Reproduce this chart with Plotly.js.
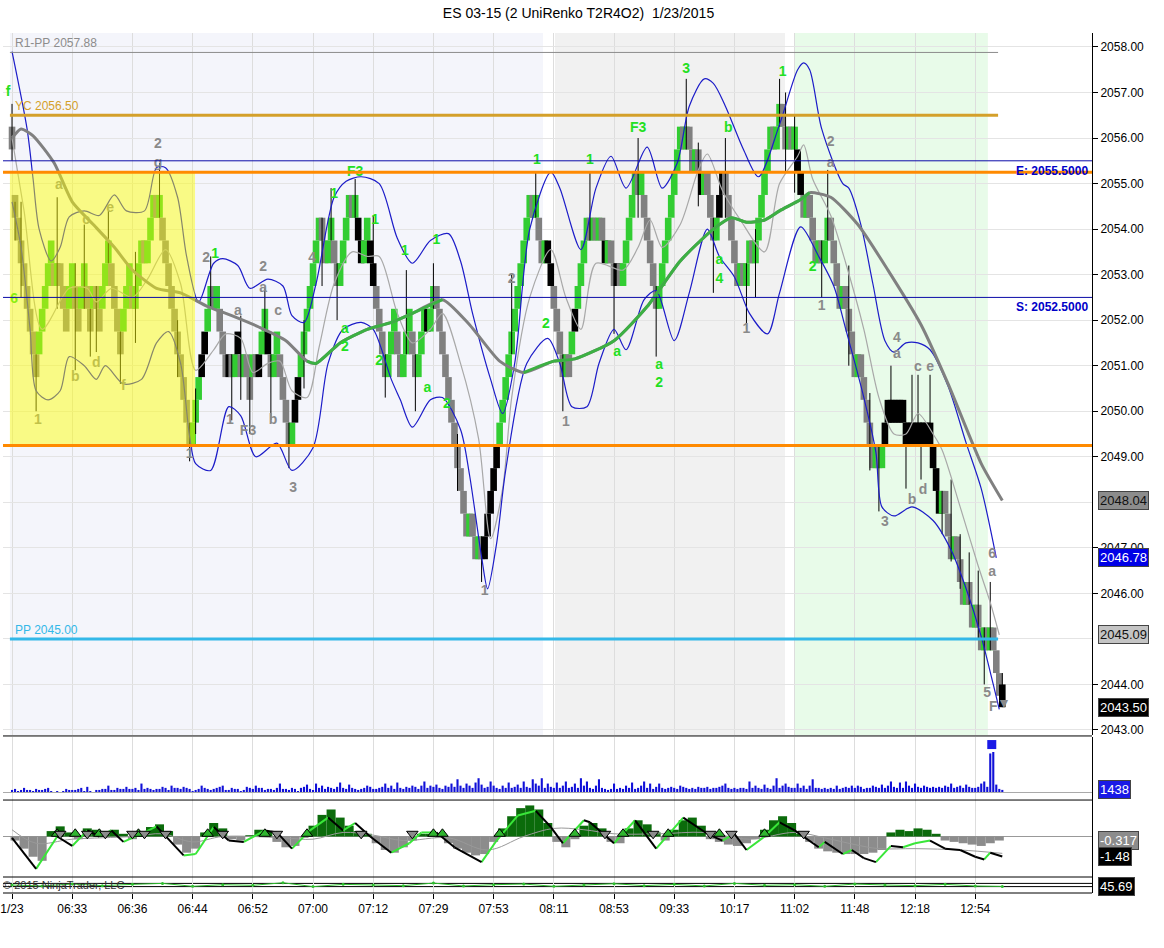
<!DOCTYPE html>
<html>
<head>
<meta charset="utf-8">
<script src="https://cdn.plot.ly/plotly-3.0.1.min.js"></script>
<style>
  html, body { margin: 0; padding: 0; background: #fff; }
  #plot { width: 1164px; height: 948px; }
</style>
</head>
<body>
<div id="plot"></div>
<script>
// renko closes, one per bar (bar 0 = first bar on the chart)
const closes = [
  2055.75, 2054.25, 2053.75, 2053.25, 2052.75, 2052.25, 2051.75, 2051.25, 2050.75, 2051.75,
  2052.25, 2052.75, 2053.25, 2053.75, 2052.75, 2053.25, 2052.75, 2052.25, 2051.75, 2052.75,
  2053.25, 2052.25, 2051.75, 2052.75, 2053.25, 2052.25, 2051.75, 2052.75, 2052.25, 2051.75,
  2052.75, 2053.25, 2053.75, 2052.75, 2052.25, 2051.75, 2051.25, 2052.25, 2052.75, 2053.25,
  2052.25, 2052.75, 2053.25, 2053.75, 2053.25, 2053.75, 2054.25, 2054.75, 2054.25, 2054.75,
  2053.75, 2053.25, 2052.75, 2052.25, 2051.75, 2051.25, 2050.75, 2050.25, 2049.75, 2049.25,
  2049.75, 2050.25, 2050.75, 2051.25, 2051.75, 2052.25, 2052.75, 2052.25, 2052.75, 2051.75,
  2051.25, 2050.75, 2051.25, 2050.75, 2051.25, 2051.75, 2050.75, 2051.25, 2050.75, 2050.25,
  2051.25, 2050.75, 2051.25, 2051.75, 2052.25, 2051.25, 2050.75, 2051.25, 2051.75, 2050.75,
  2050.25, 2049.75, 2049.25, 2049.75, 2050.25, 2050.75, 2051.25, 2051.75, 2052.25, 2052.75,
  2053.25, 2053.75, 2054.25, 2053.75, 2053.25, 2053.75, 2054.25, 2053.25, 2052.75, 2053.25,
  2053.75, 2054.25, 2054.75, 2054.25, 2054.75, 2053.75, 2053.25, 2053.75, 2054.25, 2053.25,
  2052.75, 2052.25, 2051.75, 2051.25, 2050.75, 2051.25, 2051.75, 2052.25, 2051.25, 2050.75,
  2051.25, 2051.75, 2052.25, 2051.25, 2050.75, 2051.25, 2051.75, 2052.25, 2051.75, 2052.25,
  2052.75, 2052.25, 2051.75, 2051.25, 2050.75, 2050.25, 2049.75, 2049.25, 2048.75, 2048.25,
  2047.75, 2047.25, 2047.75, 2047.25, 2046.75, 2047.25, 2046.75, 2047.25, 2047.75, 2048.25,
  2048.75, 2049.25, 2049.75, 2050.25, 2050.75, 2051.25, 2051.75, 2052.25, 2052.75, 2053.25,
  2053.75, 2054.25, 2054.75, 2054.25, 2054.75, 2053.75, 2053.25, 2053.75, 2053.25, 2052.75,
  2052.25, 2051.75, 2051.25, 2050.75, 2051.25, 2050.75, 2051.75, 2052.25, 2052.75, 2053.25,
  2053.75, 2054.25, 2053.75, 2054.25, 2053.75, 2054.25, 2053.75, 2053.25, 2053.75, 2053.25,
  2052.75, 2053.25, 2052.75, 2053.25, 2053.75, 2054.25, 2054.75, 2055.25, 2054.75, 2055.25,
  2054.25, 2053.75, 2053.25, 2052.75, 2052.25, 2052.75, 2053.25, 2053.75, 2054.25, 2054.75,
  2055.25, 2055.75, 2056.25, 2055.75, 2056.25, 2055.75, 2055.25, 2055.75, 2055.25, 2054.75,
  2055.25, 2054.75, 2054.25, 2053.75, 2054.25, 2054.75, 2055.25, 2054.75, 2054.25, 2053.75,
  2053.25, 2052.75, 2053.25, 2052.75, 2053.25, 2053.75, 2053.25, 2053.75, 2054.25, 2054.75,
  2055.25, 2055.75, 2056.25, 2055.75, 2056.25, 2056.75, 2056.25, 2055.75, 2056.25, 2055.75,
  2056.25, 2055.25, 2054.75, 2054.25, 2054.75, 2054.25, 2053.75, 2053.25, 2053.75, 2053.25,
  2053.75, 2054.25, 2053.75, 2053.25, 2052.75, 2052.25, 2052.75, 2052.25, 2051.75, 2051.25,
  2050.75, 2051.25, 2050.75, 2050.25, 2049.75, 2049.25, 2048.75, 2049.25, 2048.75, 2049.25,
  2049.75, 2050.25, 2049.75, 2050.25, 2049.75, 2050.25, 2049.75, 2049.25, 2049.75, 2049.25,
  2049.75, 2049.25, 2049.75, 2049.25, 2049.75, 2049.25, 2048.75, 2048.25, 2047.75, 2048.25,
  2047.75, 2047.25, 2046.75, 2047.25, 2046.75, 2046.25, 2045.75, 2046.25, 2045.75, 2045.25,
  2045.75, 2045.25, 2044.75, 2045.25, 2044.75, 2045.25, 2044.75, 2044.25, 2043.75, 2043.50
];

// bars painted black instead of green/grey
const blackBars = [63, 64, 72, 75, 82, 85, 94, 95, 115, 116, 119, 120, 138,
  157, 158, 159, 160, 161, 178, 179, 187, 197, 201, 229, 235, 236, 261, 262,
  290, 291, 292, 293, 294, 295, 296, 297, 298, 299, 300, 301, 302, 303, 304, 305, 306, 307, 308, 329];

// wicks: [bar, low, high]
const wicks = [
  [0, 2055.5, 2056.75], [1, 2053.75, 2054.6], [3, 2052.5, 2054.6], [8, 2050.0, 2051.25],
  [15, 2052.25, 2054.7], [21, 2050.9, 2053.25], [24, 2052.25, 2054.1], [26, 2051.2, 2052.25],
  [28, 2051.3, 2052.75], [32, 2053.25, 2054.4], [36, 2050.6, 2051.75], [41, 2051.5, 2053.5],
  [49, 2054.25, 2055.45], [55, 2050.75, 2052.0], [59, 2048.9, 2049.75], [61, 2049.5, 2050.5],
  [66, 2052.25, 2053.4], [73, 2049.8, 2051.25], [76, 2050.25, 2052.1], [79, 2049.5, 2050.75],
  [84, 2051.75, 2052.7], [86, 2049.8, 2051.25], [92, 2048.75, 2049.75], [97, 2050.5, 2052.0],
  [103, 2052.75, 2054.25], [106, 2053.75, 2054.9], [108, 2052.0, 2053.25], [114, 2054.25, 2055.1],
  [120, 2052.75, 2054.3], [124, 2050.3, 2051.25], [131, 2051.25, 2053.1], [134, 2050.0, 2051.25],
  [140, 2052.25, 2053.25], [148, 2048.25, 2049.5], [156, 2046.25, 2047.25], [166, 2051.25, 2053.0],
  [174, 2054.25, 2055.25], [183, 2050.0, 2051.25], [192, 2053.75, 2055.25], [200, 2051.7, 2053.25],
  [208, 2054.25, 2056.0], [214, 2051.2, 2052.75], [224, 2055.75, 2057.3], [228, 2054.5, 2055.9],
  [233, 2052.6, 2054.25], [237, 2054.25, 2056.0], [244, 2051.8, 2053.25], [247, 2052.5, 2054.0],
  [255, 2056.25, 2057.3], [257, 2055.25, 2057.0], [260, 2054.8, 2056.5], [269, 2052.5, 2053.75],
  [271, 2053.75, 2055.3], [278, 2051.0, 2053.2], [285, 2048.7, 2050.4], [288, 2047.8, 2049.25],
  [292, 2049.75, 2051.0], [297, 2048.3, 2049.75], [299, 2049.25, 2050.8], [301, 2049.25, 2050.8],
  [302, 2048.5, 2049.75], [305, 2049.25, 2050.8], [309, 2047.3, 2048.25], [312, 2046.7, 2048.5],
  [315, 2046.1, 2047.3], [318, 2045.75, 2046.9], [321, 2045.0, 2046.5], [323, 2044.0, 2045.25],
  [325, 2044.75, 2046.25], [329, 2043.5, 2044.25]
];

// slow moving average (thick), sampled
const slowBars = [0, 3, 7, 14, 20, 27, 34, 40, 48, 56, 65, 73, 82, 91, 98, 101, 109, 118, 126, 133,
  143, 152, 162, 170, 180, 187, 200, 211, 222, 233, 239, 244, 250, 255, 262, 265, 272, 281, 291,
  302, 311, 322, 329];
const slowVals = [2056.0, 2056.2, 2056.05, 2055.45, 2054.6, 2054.1, 2053.6, 2053.1, 2052.7, 2052.6,
  2052.3, 2052.1, 2051.85, 2051.55, 2051.1, 2051.05, 2051.5, 2051.8, 2051.95, 2052.15,
  2052.45, 2051.9, 2051.1, 2050.85, 2051.1, 2051.15, 2051.55, 2052.3, 2053.3, 2054.0, 2054.25,
  2054.15, 2054.2, 2054.4, 2054.65, 2054.8, 2054.7, 2054.1, 2053.1, 2051.9, 2050.6, 2048.85, 2048.04];
const slowRisingSpans = [[98, 143], [170, 265]];

// fast moving average (thin grey), sampled
const fastBars = [0, 4, 10, 19, 25, 28, 33, 40, 45, 51, 56, 61, 67, 71, 76, 80, 85, 89, 93, 98,
  102, 107, 113, 118, 122, 128, 133, 139, 143, 149, 155, 159, 163, 166, 172, 179, 184, 189, 194,
  203, 208, 212, 216, 222, 228, 231, 236, 242, 250, 255, 261, 263, 266, 272, 277, 283, 288, 293,
  297, 301, 306, 309, 315, 321, 325, 328];
const fastVals = [2056.0, 2054.4, 2051.8, 2052.7, 2052.7, 2052.4, 2052.7, 2052.5, 2052.9, 2053.55,
  2052.8, 2050.9, 2051.35, 2051.7, 2051.6, 2050.85, 2051.05, 2051.1, 2050.45, 2050.3,
  2051.4, 2052.8, 2053.5, 2053.4, 2053.4, 2052.15, 2051.5, 2051.8, 2052.15, 2051.05, 2049.4,
  2047.2, 2048.3, 2050.3, 2052.5, 2053.55, 2052.5, 2051.8, 2053.25, 2053.1, 2053.6, 2054.2,
  2053.6, 2054.1, 2055.3, 2055.65, 2054.85, 2054.2, 2053.5, 2055.0, 2055.6, 2055.85, 2055.1,
  2054.3, 2053.25, 2051.8, 2050.3, 2049.5, 2049.5, 2049.95, 2049.5, 2049.15, 2047.9, 2046.6,
  2045.8, 2045.09];

// upper and lower envelope (blue), sampled
const upperBars = [0, 5, 7, 9, 13, 16, 19, 24, 29, 34, 38, 44, 48, 51, 55, 58, 62, 67, 70, 75, 79,
  85, 90, 93, 97, 101, 107, 111, 116, 122, 128, 133, 139, 145, 149, 153, 159, 163, 167, 172, 179,
  182, 189, 194, 199, 204, 211, 216, 221, 225, 230, 233, 237, 243, 248, 255, 261, 263, 265, 269,
  276, 278, 282, 286, 290, 293, 297, 301, 305, 311, 317, 322, 327];
const upperVals = [2057.9, 2056.2, 2055.1, 2054.0, 2053.3, 2053.6, 2054.27, 2054.4, 2054.3, 2054.75,
  2054.4, 2054.4, 2055.35, 2055.35, 2054.7, 2053.4, 2052.4, 2053.25, 2053.35, 2053.2, 2052.7,
  2052.9, 2052.75, 2052.1, 2051.95, 2052.8, 2054.7, 2055.05, 2055.15, 2055.0, 2053.8, 2053.25,
  2053.75, 2053.9, 2053.3, 2052.15, 2050.7, 2049.95, 2051.05, 2054.0, 2055.25, 2054.9, 2053.55,
  2054.9, 2055.6, 2054.9, 2055.8, 2054.9, 2055.45, 2056.7, 2057.3, 2057.2, 2056.7, 2055.75,
  2055.15, 2056.3, 2057.5, 2057.65, 2057.5, 2056.2, 2055.0, 2054.9, 2054.1, 2052.8, 2051.55,
  2051.3, 2051.5, 2051.5, 2051.35, 2050.55, 2049.3, 2048.3, 2046.78];
const lowerBars = [0, 3, 6, 8, 12, 16, 19, 24, 28, 31, 37, 43, 48, 52, 56, 59, 61, 66, 72, 76, 81,
  88, 93, 100, 105, 110, 116, 120, 126, 129, 133, 139, 143, 149, 152, 156, 158, 161, 164, 171,
  178, 182, 186, 191, 195, 200, 204, 210, 214, 220, 225, 231, 235, 240, 245, 251, 255, 262, 268,
  273, 277, 283, 287, 289, 293, 299, 306, 312, 317, 322, 326, 328];
const lowerVals = [2054.6, 2053.6, 2051.8, 2050.45, 2050.25, 2050.45, 2051.2, 2051.0, 2050.7, 2051.0,
  2050.6, 2050.7, 2051.5, 2051.75, 2051.05, 2049.45, 2048.85, 2048.7, 2050.1, 2049.9, 2049.0,
  2049.3, 2048.7, 2049.2, 2051.05, 2051.8, 2051.95, 2051.8, 2050.7, 2050.25, 2049.65, 2050.25,
  2050.3, 2049.6, 2048.6, 2046.8, 2046.1, 2047.1, 2048.7, 2051.05, 2051.6, 2051.05, 2050.1,
  2050.1, 2051.05, 2051.8, 2051.35, 2052.45, 2052.65, 2051.55, 2052.6, 2054.0, 2053.4, 2052.95,
  2052.15, 2051.7, 2052.6, 2054.05, 2053.4, 2052.75, 2051.8, 2050.3, 2049.1, 2047.9, 2047.7,
  2047.9, 2047.6, 2046.95, 2046.1, 2045.05, 2044.0, 2043.45];

// swing labels on the price panel
const greenLabelBars = [-1.3, 0.7, 67.5, 114, 107, 120.6, 130.5, 141, 110.6, 110.6, 122, 138, 144.5,
  174.4, 177.4, 192, 201, 208, 215, 215, 224, 238, 235, 235, 256, 266];
const greenLabelPrices = [2057.0, 2052.45, 2053.45, 2055.25, 2054.75, 2054.2, 2053.5, 2053.75, 2051.8,
  2051.4, 2051.1, 2050.5, 2050.15, 2055.5, 2051.9, 2055.5, 2051.3, 2056.2, 2051.0, 2050.62,
  2057.5, 2056.2, 2053.3, 2052.9, 2057.45, 2053.15];
const greenLabelTexts = ['f', '6', '1', 'F3', '1', '1', '1', '1', 'a', '2', '2', 'a', '2',
  '1', '2', '1', 'a', 'F3', 'a', '2', '3', 'b', 'a', '4', '1', '2'];
const greyLabelBars = [8.6, 15.6, 21, 24.6, 28, 32.6, 37, 48.5, 48.5, 59, 64.5, 75, 83.4, 83.4, 88.4,
  72.4, 78.4, 86.7, 93.4, 99.7, 166, 157, 184, 244, 272, 272, 269, 294, 294, 301, 305, 290, 299,
  302.7, 325.6, 325.6, 324, 326, 329.5];
const greyLabelPrices = [2049.8, 2054.95, 2050.75, 2054.2, 2051.05, 2054.45, 2050.55, 2055.85,
  2055.45, 2049.05, 2053.35, 2052.2, 2053.15, 2052.7, 2052.2, 2049.8, 2049.55, 2049.8, 2048.3,
  2053.35, 2052.9, 2046.05, 2049.75, 2051.8, 2055.9, 2055.45, 2052.3, 2051.6, 2051.25, 2050.95,
  2050.95, 2047.55, 2048.05, 2048.25, 2046.85, 2046.45, 2043.8, 2043.5, 2043.55];
const greyLabelTexts = ['1', 'a', 'b', 'c', 'd', 'e', 'f', '2', 'g', '1', '2', 'a', '2', 'a', 'c',
  '1', 'F3', 'b', '3', '4', '2', '1', '1', '1', '2', 'a', '1', '4', 'a', 'c', 'e', '3', 'b',
  'd', '6', 'a', '5', 'F', '▼'];

// price levels
const levelNames = ['R1-PP 2057.88', 'YC 2056.50', 'PP 2045.00'];
const levelPrices = [2057.88, 2056.50, 2045.00];
const zonePrices = [2055.25, 2049.25];
const targetNames = ['E: 2055.5000', 'S: 2052.5000'];
const targetPrices = [2055.5, 2052.5];
// price tick labels left visible (the others sit under value tags)
const priceTicks = [2043, 2044, 2046, 2047, 2049, 2050, 2051, 2052, 2053, 2054, 2055, 2056, 2057, 2058];

// x axis labels, one every 20 bars
const timeLabels = ['1/23', '06:33', '06:36', '06:44', '06:52', '07:00', '07:12', '07:29', '07:53',
  '08:11', '08:53', '09:33', '10:17', '11:02', '11:48', '12:18', '12:54'];

// volume per bar
const volumes = [
  1400, 2100, 700, 1400, 2800, 1400, 1400, 700, 2100, 1400,
  1400, 2100, 2800, 700, 0, 700, 0, 700, 2100, 1400,
  1400, 1400, 2100, 2800, 700, 3500, 700, 0, 1400, 1400,
  2100, 2100, 4300, 1400, 1400, 2800, 2100, 2100, 3500, 2100,
  2100, 2800, 1400, 5700, 2100, 2800, 2100, 1400, 2100, 2100,
  3500, 2800, 1400, 4300, 2800, 2800, 2100, 3500, 2800, 2100,
  700, 1400, 2100, 4300, 2800, 2100, 1400, 2100, 2800, 3500,
  4300, 1400, 1400, 2800, 2100, 2100, 700, 1400, 3500, 2800,
  2100, 4300, 2800, 2800, 1400, 2100, 2100, 1400, 2800, 5700,
  2100, 2100, 1400, 2800, 2100, 700, 2800, 3500, 5000, 2100,
  1400, 5700, 2800, 4300, 2100, 3500, 2800, 2100, 3500, 6400,
  2800, 2100, 5000, 2800, 2100, 1400, 2100, 2800, 4300, 3500,
  2100, 2100, 2800, 3500, 5700, 2800, 4300, 2100, 6400, 2800,
  2100, 3500, 2800, 4300, 3500, 2100, 4300, 7100, 2800, 4300,
  3500, 5000, 2800, 2100, 4300, 3500, 5700, 3500, 8600, 4300,
  2800, 5700, 4300, 2800, 6400, 9300, 5000, 2800, 3500, 7100,
  4300, 2800, 2100, 4300, 2800, 6400, 2800, 3500, 5000, 2800,
  7100, 3500, 2800, 8600, 5700, 4300, 9300, 2800, 5700, 3500,
  2800, 6400, 2800, 4300, 7100, 2800, 3500, 5700, 2800, 9300,
  4300, 7100, 2800, 2100, 4300, 8600, 2800, 2100, 1400, 2100,
  5700, 2100, 2800, 2100, 4300, 2800, 6400, 2100, 2800, 4300,
  7100, 2800, 5700, 2100, 3500, 5700, 2800, 2100, 2800, 3500,
  2800, 2100, 4300, 3500, 2800, 2100, 2800, 2100, 3500, 2800,
  2800, 3500, 2100, 2800, 2800, 3500, 4300, 5700, 2800, 2100,
  2800, 2100, 2800, 2800, 2100, 7100, 2800, 4300, 2800, 2100,
  5000, 2800, 2100, 4300, 9300, 2800, 4300, 5700, 3500, 2800,
  2800, 5700, 2800, 4300, 2100, 4300, 8600, 2800, 2800, 2100,
  2800, 2100, 2800, 2100, 4300, 2100, 2800, 3500, 2800, 4300,
  2800, 4300, 3500, 2100, 2800, 2800, 4300, 3500, 2800, 5000,
  2800, 4300, 7100, 3500, 2800, 6400, 2800, 7100, 4300, 2800,
  5700, 3500, 2800, 4300, 3500, 2800, 3500, 2800, 3500, 2800,
  4300, 3500, 5700, 2800, 3500, 4300, 2800, 5000, 3500, 2800,
  2800, 3500, 5700, 7100, 3500, 26000, 27000, 5000, 2100, 1438
];
const volAlertBar = [325.5];
const volAlertValue = [32000];

// oscillator histogram, one value per 3 bars starting at bar 0
const histVals = [
  -0.3, -0.9, -1.5, -1.8, 0.4, 0.75, 0.3, -0.2, 0.6, 0.5,
  0.4, 0.5, 0.2, -0.2, 0.2, 0.7, 0.9, 0.4, -0.6, -1.2,
  -0.9, 0.3, 1.0, 0.6, -0.2, -0.3, 0.1, 0.5, 0.4, -0.4,
  -0.8, -0.7, -0.1, 0.8, 1.6, 2.0, 1.4, 0.8, 0.4, 0.2,
  -0.5, -1.0, -1.2, -0.8, -0.3, 0.2, 0.2, -0.1, -0.5, -0.9,
  -1.2, -1.4, -1.3, -0.4, 0.6, 1.5, 2.1, 2.3, 2.0, 1.0,
  -0.4, -0.8, -0.2, 0.8, 1.0, 0.6, -0.4, -0.5, 0.6, 1.2,
  0.9, 0.3, -0.3, 0.5, 1.2, 1.4, 0.8, -0.2, -0.4, -0.6,
  -0.7, -0.5, -0.2, 0.5, 1.2, 1.5, 1.0, 0.2, -0.4, -0.9,
  -1.1, -1.2, -1.3, -1.3, -1.3, -1.2, -1.0, 0.3, 0.5, 0.4,
  0.6, 0.5, 0.2, -0.3, -0.4, -0.5, -0.6, -0.7, -0.5, -0.3
];
// oscillator main line, sampled
const macdBars = [0, 8, 15, 20, 25, 29, 33, 37, 43, 48, 57, 61, 67, 72, 77, 84, 88, 93, 99, 105,
  110, 114, 119, 126, 132, 136, 141, 147, 156, 161, 168, 174, 179, 183, 190, 192, 200, 207, 214,
  223, 231, 236, 240, 244, 250, 255, 260, 268, 270, 276, 279, 283, 287, 292, 296, 300, 305, 310,
  315, 320, 323, 325, 329];
const macdVals = [-0.1, -2.4, 0.0, -0.7, 0.45, 0.0, 0.45, -0.4, 0.2, 0.75, -1.4, -1.3, 0.7, -0.3,
  -0.4, 0.45, 0.3, -0.9, 0.45, 1.4, 0.45, 1.0, 0.0, -1.2, -0.5, 0.3, 0.3, -0.8, -1.9, -0.3,
  1.55, 1.9, 0.7, -0.5, 1.2, 1.05, -0.5, 1.2, -0.9, 1.4, 0.2, -0.3, 0.2, -1.0, 0.0, 1.05, 0.45,
  -0.8, -0.4, -1.3, -1.0, -1.6, -1.9, -0.7, -0.8, -0.5, -0.3, -0.9, -1.0, -1.5, -1.7, -1.2, -1.48];
// oscillator signal line, sampled
const signalBars = [0, 8, 20, 40, 50, 60, 70, 90, 100, 110, 120, 130, 145, 158, 170, 180, 190, 200,
  215, 230, 245, 260, 270, 280, 288, 300, 315, 329];
const signalVals = [0.5, -0.5, -0.2, 0.0, 0.2, -0.4, 0.0, -0.1, -0.2, 0.3, 0.1, -0.3, -0.1, -1.0,
  0.0, 0.6, 0.5, 0.2, 0.2, 0.3, -0.2, 0.3, -0.1, -0.6, -0.9, -0.9, -1.0, -1.25];
const crossUpBars = [15, 21, 29, 42, 65, 84, 98, 140, 143, 162, 187, 203, 218, 235, 250];
const crossDownBars = [16, 25, 31, 40, 44, 51, 70, 88, 116, 133, 197, 213, 232, 239, 263];

// bottom strip oscillator, sampled
const stripBars = [0, 10, 20, 30, 40, 50, 60, 70, 80, 90, 100, 110, 120, 130, 140, 150, 160, 170,
  180, 190, 200, 210, 220, 230, 240, 250, 260, 270, 280, 290, 300, 310, 320, 329];
const stripVals = [50, 47, 53, 48, 52, 55, 46, 51, 49, 57, 45, 52, 50, 48, 56, 47, 51, 53, 46, 50,
  54, 48, 52, 47, 55, 49, 51, 46, 53, 50, 48, 52, 47, 45.69];
const stripLevels = [45, 55];

// ---- build traces ----
const FONT = 'Liberation Sans, Arial, sans-serif';
const barIdx = closes.map((c, i) => i);
const opens = closes.map((c, i) => {
  const prev = i === 0 ? c + 1 : closes[i - 1];
  return c > prev ? c - 0.5 : c + 0.5;
});
const brickColors = closes.map((c, i) => {
  if (blackBars.includes(i)) return '#000000';
  return c > opens[i] ? '#32cd32' : '#808080';
});

const wickX = [], wickY = [];
wicks.forEach(w => { wickX.push(w[0], w[0], null); wickY.push(w[1], w[2], null); });

const wickTrace = {
  type: 'scatter', mode: 'lines', x: wickX, y: wickY, xaxis: 'x', yaxis: 'y',
  line: {color: '#000', width: 1}, hoverinfo: 'skip'
};
const brickTrace = {
  type: 'bar', x: barIdx, base: closes.map((c, i) => Math.min(c, opens[i])),
  y: closes.map((c, i) => Math.abs(c - opens[i])), width: 2.2,
  marker: {color: brickColors, line: {width: 0}}, xaxis: 'x', yaxis: 'y'
};

const slowGrey = {
  type: 'scatter', mode: 'lines', x: slowBars, y: slowVals, xaxis: 'x', yaxis: 'y',
  line: {color: '#808080', width: 3, shape: 'spline', smoothing: 0.6}
};
const slowGreen = slowRisingSpans.map(span => {
  const xs = [], ys = [];
  slowBars.forEach((b, i) => { if (b >= span[0] && b <= span[1]) { xs.push(b); ys.push(slowVals[i]); } });
  return {type: 'scatter', mode: 'lines', x: xs, y: ys, xaxis: 'x', yaxis: 'y',
    line: {color: '#3cb043', width: 3, shape: 'spline', smoothing: 0.6}};
});
const fastTrace = {
  type: 'scatter', mode: 'lines', x: fastBars, y: fastVals, xaxis: 'x', yaxis: 'y',
  line: {color: '#a8a8a8', width: 1.2, shape: 'spline', smoothing: 0.8}
};
const upperTrace = {
  type: 'scatter', mode: 'lines', x: upperBars, y: upperVals, xaxis: 'x', yaxis: 'y',
  line: {color: '#1c1cc8', width: 1.2, shape: 'spline', smoothing: 0.8}
};
const lowerTrace = {
  type: 'scatter', mode: 'lines', x: lowerBars, y: lowerVals, xaxis: 'x', yaxis: 'y',
  line: {color: '#1c1cc8', width: 1.2, shape: 'spline', smoothing: 0.8}
};
const greenLabels = {
  type: 'scatter', mode: 'text', x: greenLabelBars, y: greenLabelPrices, text: greenLabelTexts,
  xaxis: 'x', yaxis: 'y', cliponaxis: false,
  textfont: {family: FONT, size: 14, color: '#22e022', weight: 'bold'}
};
const greyLabels = {
  type: 'scatter', mode: 'text', x: greyLabelBars, y: greyLabelPrices, text: greyLabelTexts,
  xaxis: 'x', yaxis: 'y', cliponaxis: false,
  textfont: {family: FONT, size: 14, color: '#8a8a8a', weight: 'bold'}
};

const volTrace = {
  type: 'bar', x: barIdx, y: volumes, width: 0.7, xaxis: 'x', yaxis: 'y2',
  marker: {color: '#1010d8', line: {width: 0}}
};
const volAlert = {
  type: 'scatter', mode: 'markers', x: volAlertBar, y: volAlertValue, xaxis: 'x', yaxis: 'y2',
  marker: {symbol: 'square', size: 9, color: '#1a1ae6'}
};

const histTrace = {
  type: 'bar', x: histVals.map((v, i) => i * 3 + 1), y: histVals, width: 3,
  xaxis: 'x', yaxis: 'y3',
  marker: {color: histVals.map(v => v >= 0 ? '#0b6b0b' : '#8c8c8c'), line: {width: 0}}
};
const signalTrace = {
  type: 'scatter', mode: 'lines', x: signalBars, y: signalVals, xaxis: 'x', yaxis: 'y3',
  line: {color: '#999', width: 1, shape: 'spline'}
};
const upX = [], upY = [], dnX = [], dnY = [];
for (let i = 1; i < macdBars.length; i++) {
  const rising = macdVals[i] >= macdVals[i - 1];
  (rising ? upX : dnX).push(macdBars[i - 1], macdBars[i], null);
  (rising ? upY : dnY).push(macdVals[i - 1], macdVals[i], null);
}
const macdUp = {type: 'scatter', mode: 'lines', x: upX, y: upY, xaxis: 'x', yaxis: 'y3',
  line: {color: '#39e639', width: 2}};
const macdDn = {type: 'scatter', mode: 'lines', x: dnX, y: dnY, xaxis: 'x', yaxis: 'y3',
  line: {color: '#000', width: 2}};
const triUp = {type: 'scatter', mode: 'markers', x: crossUpBars, y: crossUpBars.map(() => 0.2),
  xaxis: 'x', yaxis: 'y3',
  marker: {symbol: 'triangle-up', size: 10, color: '#2fb52f', line: {color: '#000', width: 1}}};
const triDn = {type: 'scatter', mode: 'markers', x: crossDownBars, y: crossDownBars.map(() => 0.2),
  xaxis: 'x', yaxis: 'y3',
  marker: {symbol: 'triangle-down', size: 10, color: '#8c8c8c', line: {color: '#000', width: 1}}};

const stripTrace = {type: 'scatter', mode: 'lines+markers', x: stripBars, y: stripVals,
  xaxis: 'x', yaxis: 'y4', line: {color: '#30c030', width: 1},
  marker: {size: 3, color: '#30c030'}};

// ---- layout ----
const shapes = [];
// session shading
const shade = (x0, x1, color) => shapes.push({type: 'rect', xref: 'x', yref: 'y domain',
  x0: x0, x1: x1, y0: 0, y1: 1, fillcolor: color, line: {width: 0}, layer: 'below'});
shade(-0.7, 176.4, '#f4f5fb');
shade(180.4, 256.8, '#f1f1f1');
shade(260.1, 324.2, '#e8fbe9');
// yellow box over the opening range
shapes.push({type: 'rect', xref: 'x', yref: 'y', x0: -0.7, x1: 60.8, y0: zonePrices[1], y1: zonePrices[0],
  fillcolor: '#ffff00', opacity: 0.47, line: {width: 0}, layer: 'above'});
// pivot lines
const levelColors = ['#8c8c8c', '#d4a02a', '#33b8e8'];
const levelWidths = [1, 3, 3];
levelPrices.forEach((p, i) => shapes.push({type: 'line', xref: 'x', yref: 'y', x0: -0.7, x1: 327.6,
  y0: p, y1: p, line: {color: levelColors[i], width: levelWidths[i]}, layer: 'above'}));
targetPrices.forEach(p => shapes.push({type: 'line', xref: 'paper', yref: 'y', x0: 0, x1: 1,
  y0: p, y1: p, line: {color: '#0a0aa8', width: 1}, layer: 'above'}));
zonePrices.forEach(p => shapes.push({type: 'line', xref: 'paper', yref: 'y', x0: 0, x1: 1,
  y0: p, y1: p, line: {color: '#ff8a00', width: 3}, layer: 'above'}));
stripLevels.forEach(p => shapes.push({type: 'line', xref: 'paper', yref: 'y4', x0: 0, x1: 1,
  y0: p, y1: p, line: {color: '#000', width: 1}, layer: 'below'}));
// panel separators
[0.1826, 0.1081, 0.0186, 0].forEach(v => shapes.push({type: 'line', xref: 'paper', yref: 'paper',
  x0: 0, x1: 1, y0: v, y1: v, line: {color: '#000', width: 1}}));

const annotations = [];
levelNames.forEach((t, i) => annotations.push({xref: 'x', yref: 'y', x: 0.3, y: levelPrices[i],
  text: t, showarrow: false, xanchor: 'left', yanchor: 'bottom',
  font: {family: FONT, size: 12, color: levelColors[i]}}));
targetNames.forEach((t, i) => annotations.push({xref: 'paper', yref: 'y', x: 1, y: targetPrices[i],
  text: '<b>' + t + '</b>', showarrow: false, xanchor: 'right', yanchor: 'top', xshift: -2, yshift: -1,
  font: {family: FONT, size: 12, color: '#0000c8'}}));
const tag = (yref, y, text, bg, fg) => annotations.push({xref: 'paper', yref: yref, x: 1, y: y,
  text: text, showarrow: false, xanchor: 'left', yanchor: 'middle', xshift: 6,
  bgcolor: bg, bordercolor: '#444', borderwidth: 1, borderpad: 1,
  font: {family: FONT, size: 13, color: fg}});
tag('y', slowVals[slowVals.length - 1], '2048.04', '#8c8c8c', '#111');
tag('y', upperVals[upperVals.length - 1], '2046.78', '#0000e6', '#fff');
tag('y', fastVals[fastVals.length - 1], '2045.09', '#c4c4c4', '#111');
tag('y', closes[closes.length - 1], '2043.50', '#000', '#fff');
tag('y2', volumes[volumes.length - 1], '1438', '#1a1ae6', '#fff');
tag('y3', histVals[histVals.length - 1], '-0.317', '#8c8c8c', '#fff');
tag('y3', macdVals[macdVals.length - 1], '-1.48', '#000', '#fff');
tag('y4', stripVals[stripVals.length - 1], '45.69', '#000', '#fff');
annotations.push({xref: 'paper', yref: 'y4', x: 0, y: 50, text: '© 2015 NinjaTrader, LLC',
  showarrow: false, xanchor: 'left', yanchor: 'middle', xshift: -2,
  font: {family: FONT, size: 11, color: '#333'}});

const layout = {
  width: 1164, height: 948,
  margin: {l: 3, r: 72, t: 33, b: 55},
  paper_bgcolor: '#fff', plot_bgcolor: '#fff',
  showlegend: false, hovermode: false,
  barmode: 'overlay',
  title: {text: 'ES 03-15 (2 UniRenko T2R4O2)  1/23/2015', x: 0.497, xanchor: 'center',
    y: 0.986, yanchor: 'middle', font: {family: FONT, size: 14, color: '#000'}},
  xaxis: {
    range: [-3, 358.8], anchor: 'y4', tickvals: timeLabels.map((t, i) => i * 20), ticktext: timeLabels,
    ticks: 'outside', ticklen: 5, tickcolor: '#000', showgrid: true, gridcolor: '#dddddd',
    zeroline: false, showline: false, tickfont: {family: FONT, size: 12, color: '#000'}
  },
  yaxis: {
    domain: [0.1837, 1], range: [2042.889, 2058.307], side: 'right', anchor: 'x',
    tickvals: priceTicks, tickformat: '.2f', ticks: 'outside', ticklen: 5, tickcolor: '#000',
    showgrid: false, zeroline: false, showline: true, linecolor: '#000',
    tickfont: {family: FONT, size: 12, color: '#000'}
  },
  // second price axis only to draw the full horizontal grid
  yaxis5: {
    domain: [0.1837, 1], range: [2042.889, 2058.307], overlaying: 'y', side: 'right', anchor: 'x',
    dtick: 1, tick0: 2043, showticklabels: false, ticks: '', showgrid: true, gridcolor: '#e4e4e4',
    zeroline: false, layer: 'below traces'
  },
  yaxis2: {domain: [0.1081, 0.1814], range: [-5400, 37100], side: 'right', anchor: 'x',
    showticklabels: false, ticks: '', showgrid: false, zeroline: true, zerolinecolor: '#aaa',
    showline: true, linecolor: '#000'},
  yaxis3: {domain: [0.0186, 0.1081], range: [-3.0, 2.7], side: 'right', anchor: 'x',
    showticklabels: false, ticks: '', showgrid: false, zeroline: true, zerolinecolor: '#999',
    showline: true, linecolor: '#000'},
  yaxis4: {domain: [0, 0.0186], range: [25, 75], side: 'right', anchor: 'x',
    showticklabels: false, ticks: '', showgrid: false, zeroline: false,
    showline: true, linecolor: '#000'},
  shapes: shapes,
  annotations: annotations
};

const gridHolder = {type: 'scatter', mode: 'lines', x: [], y: [], xaxis: 'x', yaxis: 'y5',
  hoverinfo: 'skip'};

Plotly.newPlot('plot', [
  gridHolder, wickTrace, brickTrace, fastTrace, upperTrace, lowerTrace, slowGrey, ...slowGreen,
  greenLabels, greyLabels, volTrace, volAlert, histTrace, signalTrace, macdUp, macdDn,
  triUp, triDn, stripTrace
], layout, {staticPlot: true});
</script>
</body>
</html>
